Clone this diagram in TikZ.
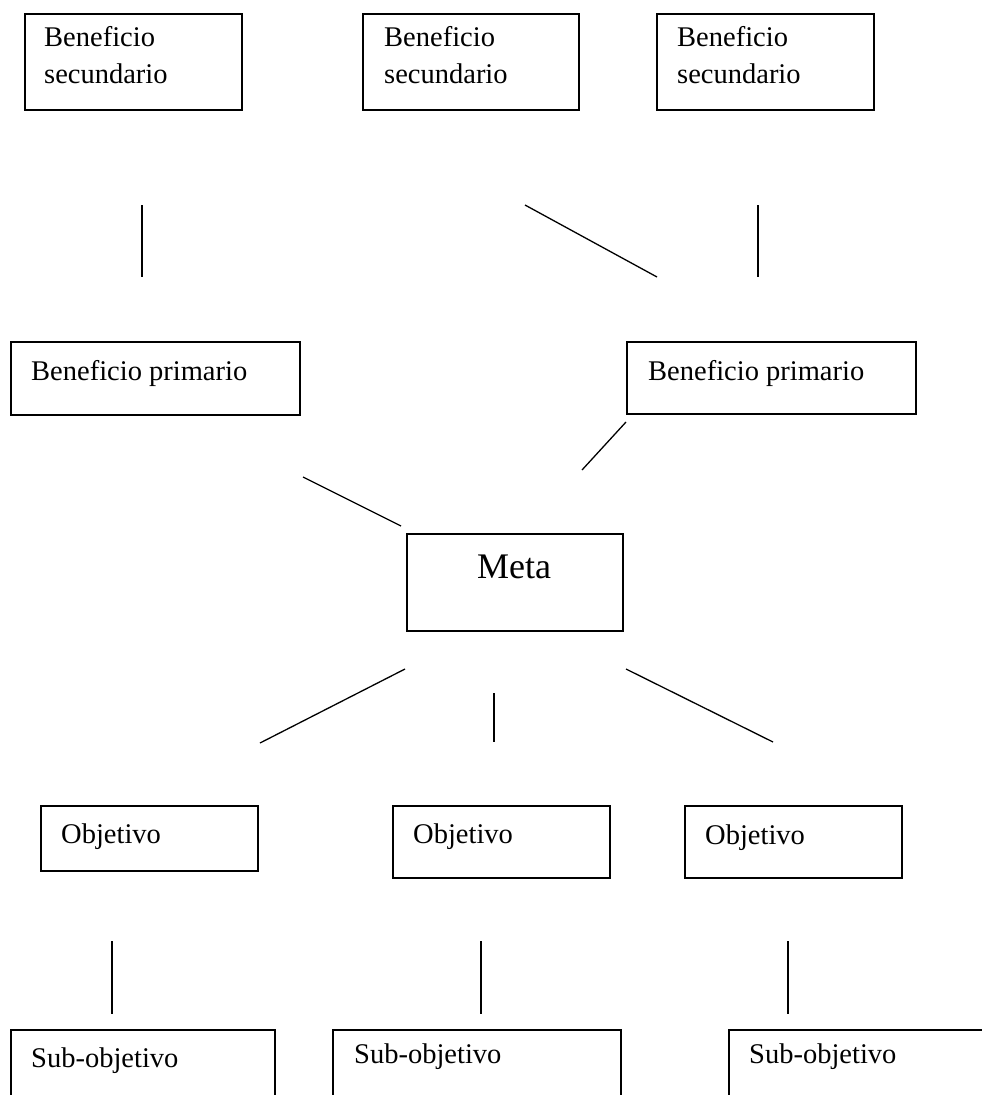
\documentclass[tikz,border=0pt]{standalone}
\usepackage{fontspec}
\setmainfont{Liberation Serif}
\begin{document}
\begin{tikzpicture}[x=1pt,y=-1pt,
  box/.style={draw=black, line width=1.5pt, rectangle, inner sep=0pt, anchor=north west},
  lbl/.style={anchor=base west, inner sep=0pt, font=\fontsize{28.5}{36.6}\selectfont, align=left},
  bigl/.style={anchor=base, inner sep=0pt, font=\fontsize{36}{44}\selectfont},
  conn/.style={draw=black, line width=1.3pt}]
\clip (0,0) rectangle (982,1095);
\fill[white] (0,0) rectangle (982,1095);
% secondary benefits
\node[box, minimum width=217pt, minimum height=96pt] (bs1) at (24,13) {};
\node[box, minimum width=216pt, minimum height=96pt] (bs2) at (362,13) {};
\node[box, minimum width=217pt, minimum height=96pt] (bs3) at (656,13) {};
\node[lbl] (bs1t) at (44,83) {Beneficio\\secundario};
\node[lbl] (bs2t) at (384,83) {Beneficio\\secundario};
\node[lbl] (bs3t) at (677,83) {Beneficio\\secundario};
% primary benefits
\node[box, minimum width=289pt, minimum height=73pt] (bp1) at (10,341) {};
\node[box, minimum width=289pt, minimum height=72pt] (bp2) at (626,341) {};
\node[lbl] (bp1t) at (31,380) {Beneficio primario};
\node[lbl] (bp2t) at (648,380) {Beneficio primario};
% goal
\node[box, minimum width=216pt, minimum height=97pt] (meta) at (406,533) {};
\node[bigl] (metat) at (514,578) {Meta};
% objectives
\node[box, minimum width=217pt, minimum height=65pt] (ob1) at (40,805) {};
\node[box, minimum width=217pt, minimum height=72pt] (ob2) at (392,805) {};
\node[box, minimum width=217pt, minimum height=72pt] (ob3) at (684,805) {};
\node[lbl] (ob1t) at (61,843) {Objetivo};
\node[lbl] (ob2t) at (413,843) {Objetivo};
\node[lbl] (ob3t) at (705,844) {Objetivo};
% sub-objectives (cut off by the page edge)
\node[box, minimum width=264pt, minimum height=90pt] (so1) at (10,1029) {};
\node[box, minimum width=288pt, minimum height=90pt] (so2) at (332,1029) {};
\node[box, minimum width=290pt, minimum height=90pt] (so3) at (728,1029) {};
\node[lbl] (so1t) at (31,1067) {Sub-objetivo};
\node[lbl] (so2t) at (354,1063) {Sub-objetivo};
\node[lbl] (so3t) at (749,1063) {Sub-objetivo};
% connector end points
\coordinate (c1a) at (142,205); \coordinate (c1b) at (142,277);
\coordinate (c2a) at (525,205); \coordinate (c2b) at (657,277);
\coordinate (c3a) at (758,205); \coordinate (c3b) at (758,277);
\coordinate (c4a) at (626,422); \coordinate (c4b) at (582,470);
\coordinate (c5a) at (303,477); \coordinate (c5b) at (401,526);
\coordinate (c6a) at (405,669); \coordinate (c6b) at (260,743);
\coordinate (c7a) at (494,693); \coordinate (c7b) at (494,742);
\coordinate (c8a) at (626,669); \coordinate (c8b) at (773,742);
\coordinate (c9a) at (112,941); \coordinate (c9b) at (112,1014);
\coordinate (c10a) at (481,941); \coordinate (c10b) at (481,1014);
\coordinate (c11a) at (788,941); \coordinate (c11b) at (788,1014);
\foreach \i in {1,...,11} { \draw[conn] (c\i a) -- (c\i b); }
\end{tikzpicture}
\end{document}
